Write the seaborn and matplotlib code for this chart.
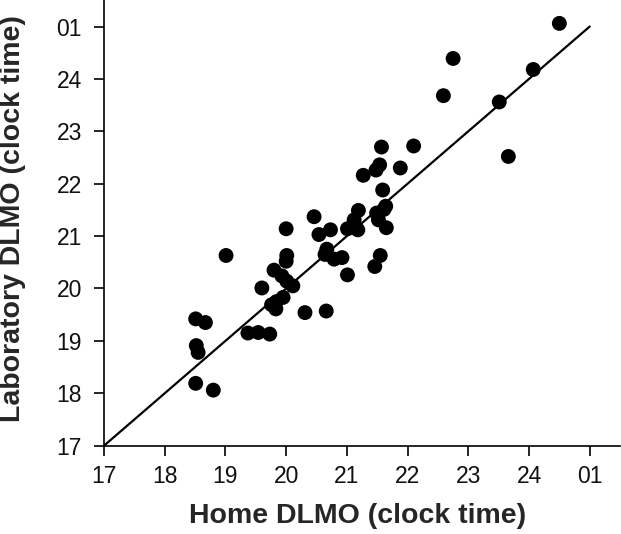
import matplotlib
matplotlib.use("Agg")
import matplotlib.pyplot as plt
import seaborn as sns
import pandas as pd

# DLMO values (decimal clock hours; 25 = 01:00 next day)
home_dlmo = [
    24.50, 22.75, 24.07, 22.59, 23.51, 23.66, 21.57, 22.10, 21.54, 21.48,
    21.88, 21.27, 21.59, 21.64, 21.61, 21.49, 21.52, 21.65, 21.19, 21.12,
    21.01, 21.18, 20.46, 20.54, 20.73, 20.00, 19.01, 20.01, 20.00, 20.67,
    20.64, 20.79, 20.92, 21.55, 21.46, 21.01, 19.80, 19.93, 20.01, 20.11,
    19.60, 19.95, 19.84, 19.76, 19.83, 20.31, 20.66, 18.51, 18.67, 19.37,
    19.54, 19.73, 18.52, 18.55, 18.51, 18.80,
]
lab_dlmo = [
    25.06, 24.39, 24.18, 23.68, 23.56, 22.52, 22.70, 22.72, 22.36, 22.26,
    22.30, 22.16, 21.88, 21.57, 21.51, 21.44, 21.31, 21.16, 21.49, 21.31,
    21.14, 21.12, 21.37, 21.03, 21.12, 21.14, 20.63, 20.63, 20.52, 20.75,
    20.65, 20.56, 20.59, 20.63, 20.42, 20.26, 20.35, 20.24, 20.14, 20.05,
    20.01, 19.83, 19.75, 19.69, 19.61, 19.54, 19.57, 19.42, 19.35, 19.15,
    19.16, 19.13, 18.91, 18.78, 18.19, 18.06,
]
identity = [17, 25]
tick_vals = [17, 18, 19, 20, 21, 22, 23, 24, 25]
tick_labels = ["17", "18", "19", "20", "21", "22", "23", "24", "01"]

df = pd.DataFrame({"home": home_dlmo, "lab": lab_dlmo})

sns.set_style("ticks")
plt.rcParams["font.family"] = ["Liberation Sans", "DejaVu Sans"]

fig = plt.figure(figsize=(6.21, 5.34), dpi=100)
ax = fig.add_axes([0.1675, 0.1654, 0.831, 0.834])

sns.lineplot(x=identity, y=identity, color="black", linewidth=1.6, ax=ax)
sns.scatterplot(data=df, x="home", y="lab", s=115, color="black",
                edgecolor="none", ax=ax, zorder=3)

ax.set_xlim(17, 25.5)
ax.set_ylim(17, 25.5)
ax.set_xticks(tick_vals)
ax.set_xticklabels(tick_labels)
ax.set_yticks(tick_vals)
ax.set_yticklabels(tick_labels)
ax.tick_params(axis="both", direction="out", length=7, width=1.2,
               labelsize=16.5, color="black", labelcolor="#111111")
ax.tick_params(axis="x", pad=7)
ax.tick_params(axis="y", pad=9)
for side in ["top", "right"]:
    ax.spines[side].set_visible(False)
for side in ["left", "bottom"]:
    ax.spines[side].set_linewidth(1.2)
    ax.spines[side].set_color("black")

ax.set_xlabel("Home DLMO (clock time)", fontsize=20.5, fontweight="bold", va="center")
ax.set_ylabel("Laboratory DLMO (clock time)", fontsize=20.5, fontweight="bold", va="center")
ax.xaxis.set_label_coords(0.491, -0.158)
ax.yaxis.set_label_coords(-0.176, 0.511)

fig.savefig("out.png", dpi=100)
plt.close(fig)
